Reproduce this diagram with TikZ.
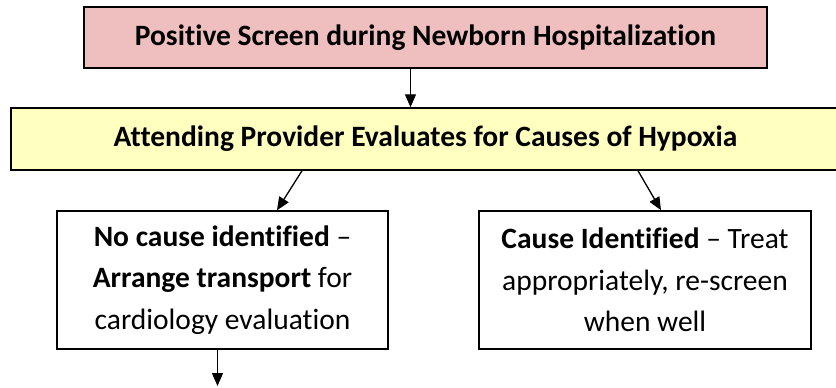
\documentclass[tikz,border=0pt]{standalone}
\usepackage{fontspec}
\setmainfont{Carlito}[Ligatures={NoCommon}]
\usetikzlibrary{arrows.meta,calc}
\definecolor{pinkfill}{RGB}{239,191,191}
\definecolor{yellowfill}{RGB}{255,255,192}
\tikzset{
  box/.style={draw=black, line width=1.5pt, inner sep=0pt, align=center, font=\fontsize{29.5}{41.5}\selectfont},
  arr/.style={line width=1.3pt, -{Triangle[length=13pt,width=11pt]}},
}
\begin{document}
\begin{tikzpicture}[x=1pt,y=-1pt]
\clip (0,0) rectangle (836,388);
\fill[white] (0,0) rectangle (836,388);
\node[box, fill=pinkfill, minimum width=683pt, minimum height=61pt] (pos) at (425.5,37.5) {\textbf{Positive Screen during Newborn Hospitalization}};
\node[box, fill=yellowfill, minimum width=829pt, minimum height=62pt] (att) at (425.5,139) {\textbf{Attending Provider Evaluates for Causes of Hypoxia}};
\node[box, fill=white, minimum width=331pt, minimum height=138pt] (noc) at (222.5,280) {\textbf{No cause identified} –\\\textbf{Arrange transport} for\\cardiology evaluation};
\node[box, fill=white, minimum width=332pt, minimum height=138pt] (cid) at (645,280) {\textbf{Cause Identified} – Treat\\appropriately, re-screen\\when well};
\coordinate (out) at (217.5,386);
\draw[arr] ([xshift=-15pt]pos.south) -- ([xshift=-15pt]att.north);
\draw[arr] ([xshift=-123.5pt]att.south) -- ([xshift=54.5pt]noc.north);
\draw[arr] ([xshift=212.5pt]att.south) -- ([xshift=16pt]cid.north);
\draw[arr] ([xshift=-5pt]noc.south) -- (out);
\end{tikzpicture}
\end{document}
